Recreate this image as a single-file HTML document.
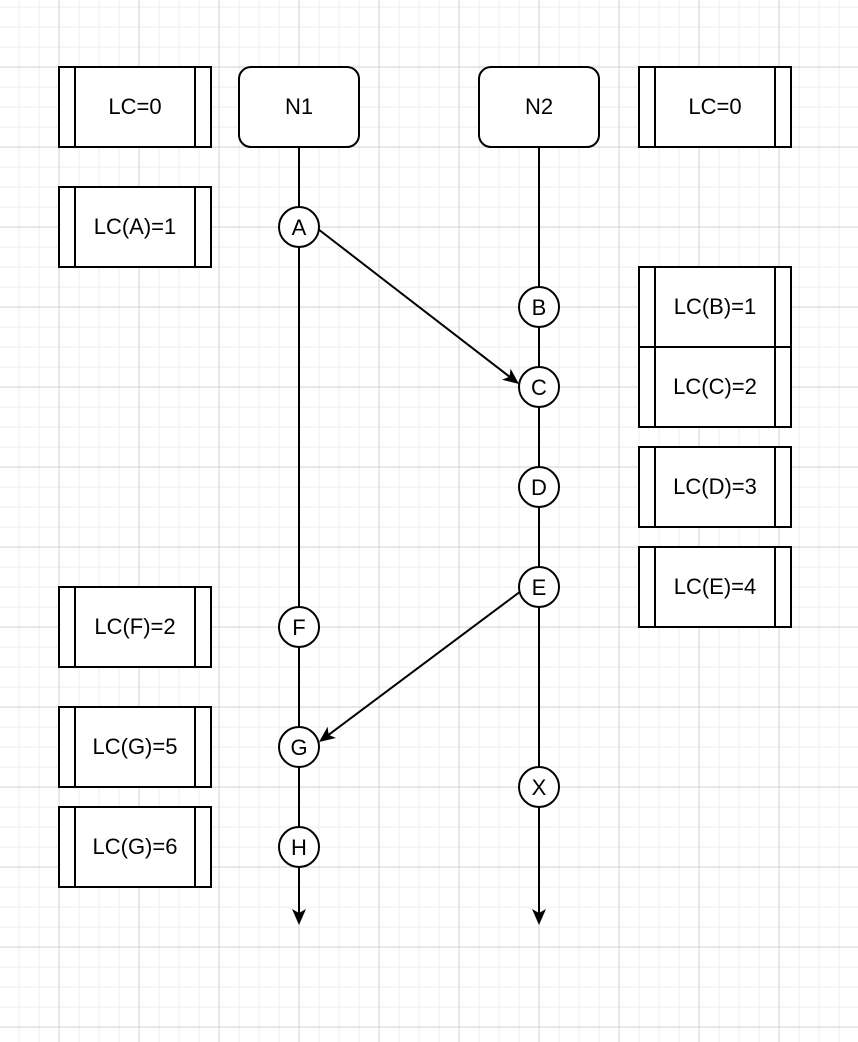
<!DOCTYPE html>
<html><head><meta charset="utf-8"><style>
html,body{margin:0;padding:0;background:#fff;}
svg{display:block;}
text{font-family:"Liberation Sans",Helvetica,Arial,sans-serif;font-size:22px;fill:#000;}
</style></head><body>
<svg width="858" height="1042" viewBox="0 0 858 1042" xmlns="http://www.w3.org/2000/svg">
<defs>
<pattern id="minor" x="-1.5" y="6.5" width="20" height="20" patternUnits="userSpaceOnUse">
<path d="M0 0.5H20M0.5 0V20" stroke="#f0f0f0" stroke-width="1.5" fill="none"/>
</pattern>
<pattern id="major" x="-21.5" y="-13.5" width="80" height="80" patternUnits="userSpaceOnUse">
<path d="M0 0.5H80M0.5 0V80" stroke="#d6d6d6" stroke-width="1" fill="none"/>
</pattern>
</defs>
<rect width="858" height="1042" fill="url(#minor)"/>
<rect width="858" height="1042" fill="url(#major)"/>
<g stroke="#000" stroke-width="2" fill="none">
<line x1="299" y1="147" x2="299" y2="913"/>
<line x1="539" y1="147" x2="539" y2="913"/>
<line x1="318" y1="229" x2="509.5" y2="376.7"/>
<line x1="521" y1="591" x2="328.6" y2="734.8"/>
</g>
<g fill="#000">
<path d="M299 925L292 909L299 913L306 909Z"/>
<path d="M539 925L532 909L539 913L546 909Z"/>
<path d="M519 384L502 379.7L509.5 376.7L510.6 368.7Z"/>
<path d="M319 742L327.6 726.8L328.6 734.8L336 738Z"/>
</g>
<g stroke="#000" stroke-width="2" fill="#fff">
<rect x="239" y="67" width="120" height="80" rx="12"/>
<rect x="479" y="67" width="120" height="80" rx="12"/>
</g>
<text x="299" y="114" text-anchor="middle">N1</text>
<text x="539" y="114" text-anchor="middle">N2</text>
<g stroke="#000" stroke-width="2" fill="#fff">
<circle cx="299" cy="227" r="20"/>
<circle cx="539" cy="307" r="20"/>
<circle cx="539" cy="387" r="20"/>
<circle cx="539" cy="487" r="20"/>
<circle cx="539" cy="587" r="20"/>
<circle cx="299" cy="627" r="20"/>
<circle cx="299" cy="747" r="20"/>
<circle cx="299" cy="847" r="20"/>
<circle cx="539" cy="787" r="20"/>
</g>
<g text-anchor="middle">
<text x="299" y="235">A</text>
<text x="539" y="315">B</text>
<text x="539" y="395">C</text>
<text x="539" y="495">D</text>
<text x="539" y="595">E</text>
<text x="299" y="635">F</text>
<text x="299" y="755">G</text>
<text x="299" y="855">H</text>
<text x="539" y="795">X</text>
</g>
<g stroke="#000" stroke-width="2" fill="#fff">
<rect x="59" y="67" width="152" height="80"/><path d="M75 67V147M195 67V147"/>
<rect x="59" y="187" width="152" height="80"/><path d="M75 187V267M195 187V267"/>
<rect x="59" y="587" width="152" height="80"/><path d="M75 587V667M195 587V667"/>
<rect x="59" y="707" width="152" height="80"/><path d="M75 707V787M195 707V787"/>
<rect x="59" y="807" width="152" height="80"/><path d="M75 807V887M195 807V887"/>
<rect x="639" y="67" width="152" height="80"/><path d="M655 67V147M775 67V147"/>
<rect x="639" y="267" width="152" height="80"/><path d="M655 267V347M775 267V347"/>
<rect x="639" y="347" width="152" height="80"/><path d="M655 347V427M775 347V427"/>
<rect x="639" y="447" width="152" height="80"/><path d="M655 447V527M775 447V527"/>
<rect x="639" y="547" width="152" height="80"/><path d="M655 547V627M775 547V627"/>
</g>
<g text-anchor="middle">
<text x="135" y="114">LC=0</text>
<text x="135" y="234">LC(A)=1</text>
<text x="135" y="634">LC(F)=2</text>
<text x="135" y="754">LC(G)=5</text>
<text x="135" y="854">LC(G)=6</text>
<text x="715" y="114">LC=0</text>
<text x="715" y="314">LC(B)=1</text>
<text x="715" y="394">LC(C)=2</text>
<text x="715" y="494">LC(D)=3</text>
<text x="715" y="594">LC(E)=4</text>
</g>
</svg>
</body></html>
